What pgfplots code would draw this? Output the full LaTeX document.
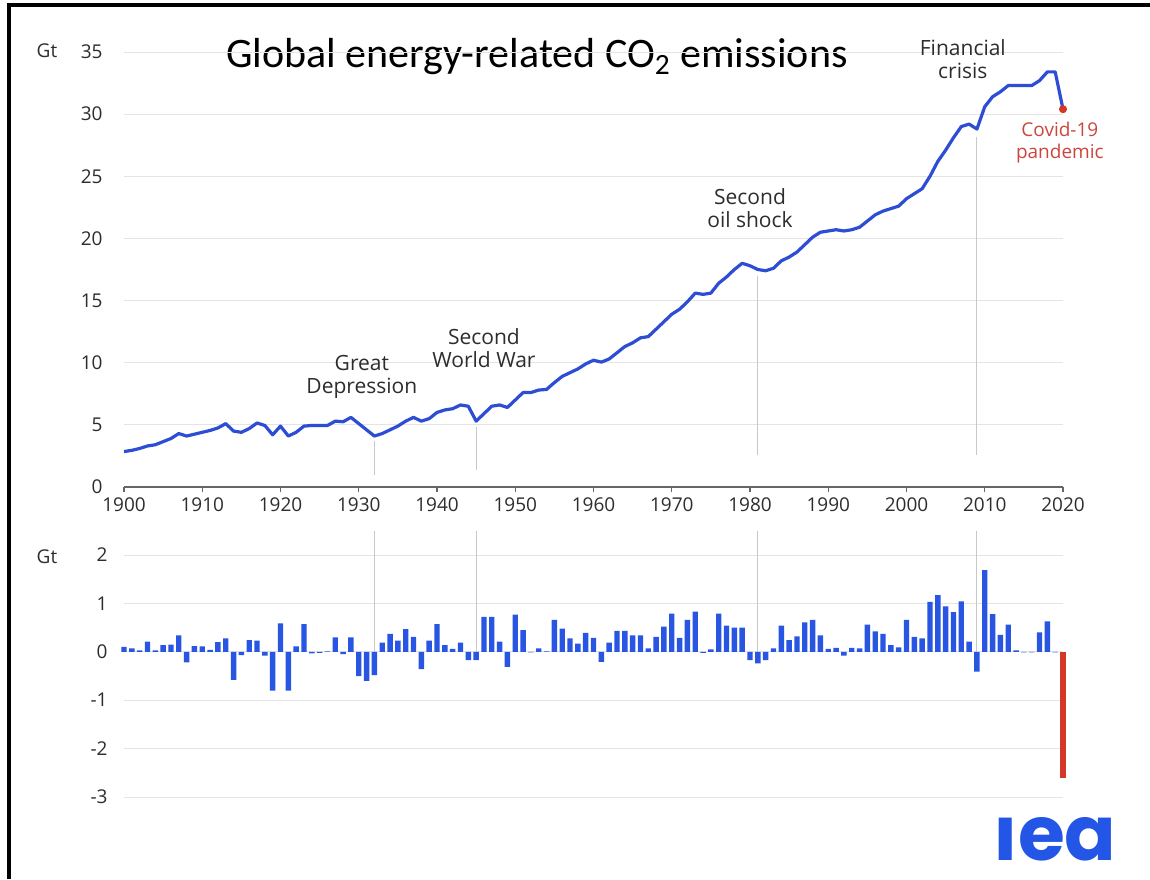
\documentclass[border=0pt]{standalone}
\usepackage{fontspec}
\setmainfont{Open Sans}
\newfontfamily\titlefont{Carlito}
\newfontfamily\logofont{Poppins}
\usepackage{pgfplots}
\pgfplotsset{compat=1.18}
\definecolor{lineblue}{RGB}{45,78,212}
\definecolor{barblue}{RGB}{40,85,225}
\definecolor{covidred}{RGB}{212,55,40}
\definecolor{covidtext}{RGB}{205,70,62}
\definecolor{gridgray}{RGB}{228,228,228}
\definecolor{eventgray}{RGB}{200,200,200}
\definecolor{txt}{RGB}{45,45,45}
\definecolor{logoblue}{RGB}{35,85,230}

\pgfplotstableread{
year val
1900 2.85
1901 2.95
1902 3.1
1903 3.3
1904 3.4
1905 3.65
1906 3.9
1907 4.3
1908 4.1
1909 4.25
1910 4.4
1911 4.55
1912 4.75
1913 5.1
1914 4.5
1915 4.4
1916 4.7
1917 5.15
1918 4.95
1919 4.2
1920 4.9
1921 4.1
1922 4.4
1923 4.9
1924 4.95
1925 4.95
1926 4.95
1927 5.3
1928 5.25
1929 5.6
1930 5.1
1931 4.6
1932 4.1
1933 4.3
1934 4.6
1935 4.9
1936 5.3
1937 5.6
1938 5.3
1939 5.5
1940 6.0
1941 6.2
1942 6.3
1943 6.6
1944 6.5
1945 5.3
1946 5.9
1947 6.5
1948 6.6
1949 6.4
1950 7.0
1951 7.6
1952 7.6
1953 7.8
1954 7.85
1955 8.4
1956 8.9
1957 9.2
1958 9.5
1959 9.9
1960 10.2
1961 10.05
1962 10.3
1963 10.8
1964 11.3
1965 11.6
1966 12.0
1967 12.1
1968 12.7
1969 13.3
1970 13.9
1971 14.3
1972 14.9
1973 15.6
1974 15.5
1975 15.6
1976 16.4
1977 16.9
1978 17.5
1979 18.0
1980 17.8
1981 17.5
1982 17.4
1983 17.6
1984 18.2
1985 18.5
1986 18.9
1987 19.5
1988 20.1
1989 20.5
1990 20.6
1991 20.7
1992 20.6
1993 20.7
1994 20.9
1995 21.4
1996 21.9
1997 22.2
1998 22.4
1999 22.6
2000 23.2
2001 23.6
2002 24.0
2003 25.0
2004 26.2
2005 27.1
2006 28.1
2007 29.0
2008 29.2
2009 28.8
2010 30.6
2011 31.4
2012 31.8
2013 32.3
2014 32.3
2015 32.3
2016 32.3
2017 32.7
2018 33.4
2019 33.4
2020 30.4
}\emissions

\pgfplotstableread{
year val
1900 0.10
1901 0.07
1902 0.03
1903 0.21
1904 0.03
1905 0.14
1906 0.15
1907 0.34
1908 -0.22
1909 0.12
1910 0.11
1911 0.04
1912 0.20
1913 0.28
1914 -0.58
1915 -0.07
1916 0.24
1917 0.23
1918 -0.08
1919 -0.80
1920 0.59
1921 -0.80
1922 0.11
1923 0.57
1924 -0.03
1925 -0.02
1926 0.01
1927 0.30
1928 -0.05
1929 0.30
1930 -0.50
1931 -0.60
1932 -0.48
1933 0.19
1934 0.37
1935 0.23
1936 0.47
1937 0.31
1938 -0.36
1939 0.23
1940 0.57
1941 0.14
1942 0.06
1943 0.19
1944 -0.17
1945 -0.17
1946 0.72
1947 0.72
1948 0.21
1949 -0.31
1950 0.77
1951 0.45
1952 -0.01
1953 0.07
1954 0.01
1955 0.66
1956 0.48
1957 0.28
1958 0.17
1959 0.39
1960 0.29
1961 -0.21
1962 0.19
1963 0.43
1964 0.43
1965 0.34
1966 0.34
1967 0.07
1968 0.31
1969 0.52
1970 0.79
1971 0.29
1972 0.66
1973 0.83
1974 -0.02
1975 0.05
1976 0.79
1977 0.54
1978 0.50
1979 0.50
1980 -0.17
1981 -0.24
1982 -0.17
1983 0.07
1984 0.54
1985 0.24
1986 0.32
1987 0.61
1988 0.66
1989 0.34
1990 0.06
1991 0.08
1992 -0.08
1993 0.08
1994 0.07
1995 0.56
1996 0.42
1997 0.37
1998 0.14
1999 0.09
2000 0.66
2001 0.31
2002 0.28
2003 1.03
2004 1.17
2005 0.94
2006 0.82
2007 1.04
2008 0.21
2009 -0.41
2010 1.69
2011 0.78
2012 0.35
2013 0.56
2014 0.03
2015 -0.01
2016 -0.01
2017 0.40
2018 0.63
2019 -0.01
}\changes

\begin{document}
\begin{tikzpicture}
\path[use as bounding box] (0,0) rectangle (575pt,439.5pt);
\fill[white] (0,0) rectangle (575pt,439.5pt);
\draw[line width=2pt] (4.5pt,0) -- (4.5pt,437pt) -- (575pt,437pt);

% Gt labels
\node[txt, font=\fontsize{9.5}{10}\selectfont] at (23.5pt,414pt) {Gt};
\node[txt, font=\fontsize{9.5}{10}\selectfont] at (23.5pt,161pt) {Gt};

% title
\node[font=\titlefont\fontsize{21}{24}\selectfont, text=black, anchor=base] at (268.5pt,405.5pt) {Global energy-related CO\textsubscript{2} emissions};

% logo
\node[font=\logofont\bfseries\fontsize{38}{40}\selectfont, text=logoblue, anchor=base, inner sep=0pt] at (527.5pt,9.5pt) {ıea};

\begin{axis}[
  at={(62pt,196pt)}, anchor=south west,
  scale only axis, width=469.5pt, height=217.5pt,
  xmin=1900, xmax=2020, ymin=0, ymax=35,
  clip=false,
  axis lines*=left,
  x axis line style={draw=gray!80!black, line width=0.6pt},
  y axis line style={draw=none},
  xtick={1900,1910,...,2020},
  ytick={0,5,...,35},
  ymajorgrids, grid style={gridgray, line width=0.5pt},
  tick align=outside,
  xtick style={draw=gray!80!black, line width=0.6pt},
  major tick length=2.5pt,
  ytick style={draw=none},
  /pgf/number format/1000 sep={},
  /pgf/number format/assume math mode=true,
  xticklabel style={font=\fontsize{9.5}{10}\selectfont, text=txt, inner sep=0pt, yshift=-2.5pt},
  yticklabel style={font=\fontsize{9.5}{10}\selectfont, text=txt, inner sep=0pt, xshift=-8pt},
]
\draw[eventgray, line width=0.5pt] (axis cs:1932,3.7) -- (axis cs:1932,1.0);
\draw[eventgray, line width=0.5pt] (axis cs:1945,4.8) -- (axis cs:1945,1.4);
\draw[eventgray, line width=0.5pt] (axis cs:1981,17.0) -- (axis cs:1981,2.6);
\draw[eventgray, line width=0.5pt] (axis cs:2009,28.2) -- (axis cs:2009,2.6);
\addplot[lineblue, line width=1.6pt, line join=round, mark=none] table[x=year,y=val] {\emissions};
\addplot[covidred, mark=*, mark size=1.8pt, only marks] coordinates {(2020,30.4)};
\node[txt, align=center, font=\fontsize{10.5}{11.5}\selectfont] at (axis cs:1930.4,8.85) {Great\\Depression};
\node[txt, align=center, font=\fontsize{10.5}{11.5}\selectfont] at (axis cs:1946,11.2) {Second\\World War};
\node[txt, align=center, font=\fontsize{10.5}{11.5}\selectfont] at (axis cs:1980,22.45) {Second\\oil shock};
\node[txt, align=center, font=\fontsize{10.5}{11.5}\selectfont] at (axis cs:2007.2,34.4) {Financial\\crisis};
\node[covidtext, align=center, font=\fontsize{9.5}{11}\selectfont] at (axis cs:2019.6,27.7) {Covid-19\\pandemic};
\end{axis}

\begin{axis}[
  at={(62pt,41pt)}, anchor=south west,
  scale only axis, width=469.5pt, height=121pt,
  xmin=1900, xmax=2020, ymin=-3, ymax=2,
  clip=false,
  axis line style={draw=none},
  xtick=\empty,
  ytick={-3,-2,-1,0,1,2},
  yticklabels={-3,-2,-1,0,1,2},
  ymajorgrids, grid style={gridgray, line width=0.5pt},
  ytick style={draw=none},
  yticklabel style={font=\fontsize{9.5}{10}\selectfont, text=txt, inner sep=0pt, xshift=-8pt},
]
\draw[eventgray, line width=0.5pt] (axis cs:1932,2.5) -- (axis cs:1932,0);
\draw[eventgray, line width=0.5pt] (axis cs:1945,2.5) -- (axis cs:1945,0);
\draw[eventgray, line width=0.5pt] (axis cs:1981,2.5) -- (axis cs:1981,0);
\draw[eventgray, line width=0.5pt] (axis cs:2009,2.5) -- (axis cs:2009,0);
\addplot[ybar, bar width=2.7pt, bar shift=0pt, fill=barblue, draw=none] table[x=year,y=val] {\changes};
\addplot[ybar, bar width=2.7pt, bar shift=0pt, fill=covidred, draw=none] coordinates {(2020,-2.6)};
\end{axis}
\end{tikzpicture}
\end{document}
